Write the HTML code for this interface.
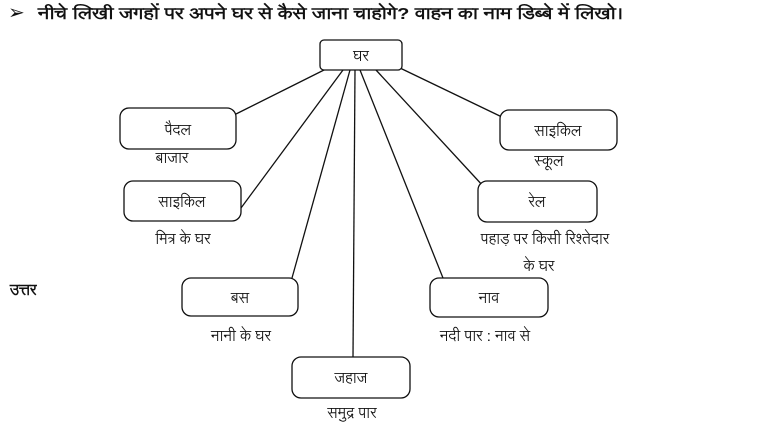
<!DOCTYPE html>
<html><head><meta charset="utf-8"><style>
body{margin:0;background:#fff;width:771px;height:427px;overflow:hidden;font-family:"Liberation Sans","Noto Sans CJK SC",sans-serif;}
svg text{font-family:"Liberation Sans","Noto Sans CJK SC","Lohit Devanagari",sans-serif;fill:#111;}
</style></head><body>
<svg width="771" height="427" xmlns="http://www.w3.org/2000/svg">
<text x="8" y="19" font-size="20">➢</text>
<text x="38" y="19" font-size="16" font-weight="bold" textLength="585" lengthAdjust="spacingAndGlyphs">नीचे लिखी जगहों पर अपने घर से कैसे जाना चाहोगे? वाहन का नाम डिब्बे में लिखो।</text>
<g stroke="#111" stroke-width="1.3" fill="none">
<line x1="326" y1="69" x2="236" y2="114"/>
<line x1="343" y1="70" x2="241" y2="208"/>
<line x1="350" y1="70" x2="292" y2="278"/>
<line x1="355" y1="70" x2="353" y2="357"/>
<line x1="360" y1="70" x2="443" y2="278"/>
<line x1="376" y1="70" x2="484" y2="187"/>
<line x1="400" y1="68" x2="504" y2="118"/>
<rect x="320" y="40" width="82" height="30" rx="4" fill="#fff"/>
<rect x="120" y="108" width="116" height="41" rx="9" fill="#fff"/>
<rect x="124" y="181" width="117" height="40" rx="9" fill="#fff"/>
<rect x="182" y="278" width="116" height="38" rx="9" fill="#fff"/>
<rect x="292" y="357" width="118" height="41" rx="9" fill="#fff"/>
<rect x="500" y="110" width="117" height="40" rx="9" fill="#fff"/>
<rect x="478" y="181" width="119" height="41" rx="9" fill="#fff"/>
<rect x="430" y="278" width="118" height="39" rx="9" fill="#fff"/>
</g>
<g font-size="15" text-anchor="middle">
<text x="361" y="61">घर</text>
<text x="178" y="135">पैदल</text>
<text x="182" y="207">साइकिल</text>
<text x="240" y="303">बस</text>
<text x="351" y="383">जहाज</text>
<text x="558" y="136">साइकिल</text>
<text x="537" y="207">रेल</text>
<text x="489" y="303">नाव</text>
<text x="172" y="163">बाजार</text>
<text x="549" y="166">स्कूल</text>
<text x="183" y="244">मित्र के घर</text>
<text x="545" y="244">पहाड़ पर किसी रिश्तेदार</text>
<text x="539" y="271">के घर</text>
<text x="241" y="341">नानी के घर</text>
<text x="485" y="341">नदी पार : नाव से</text>
<text x="352" y="418">समुद्र पार</text>
</g>
<text x="10" y="295" font-size="15" font-weight="bold">उत्तर</text>
</svg>
</body></html>
